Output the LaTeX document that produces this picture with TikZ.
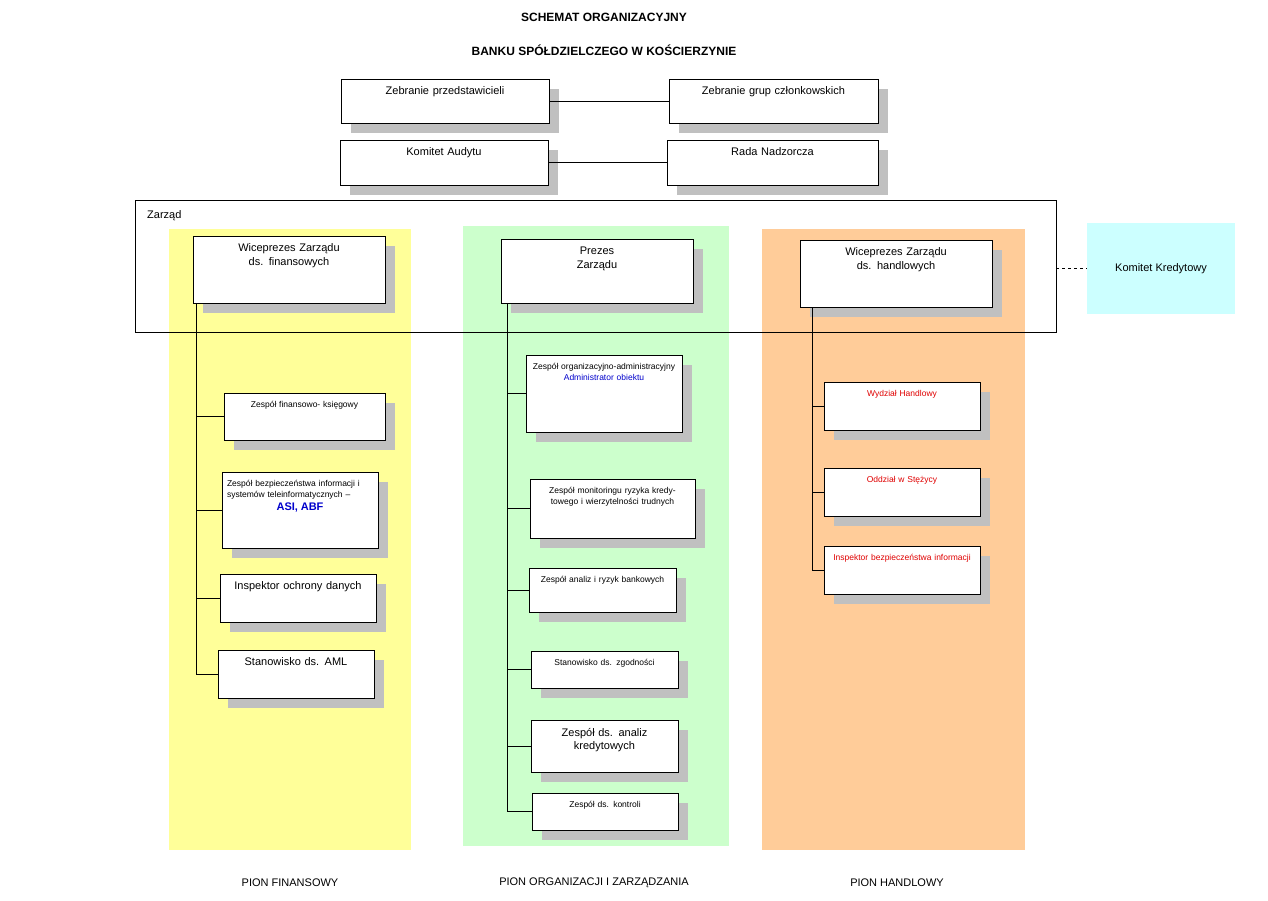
\documentclass[tikz,border=0pt]{standalone}
\usepackage{fontspec}
\setmainfont{Liberation Sans}
\usetikzlibrary{positioning}
\definecolor{shadowgray}{HTML}{C0C0C0}
\definecolor{finyellow}{HTML}{FFFF99}
\definecolor{orggreen}{HTML}{CCFFCC}
\definecolor{handorange}{HTML}{FFCC99}
\definecolor{kredcyan}{HTML}{CCFFFF}
\definecolor{txtblue}{HTML}{0000CC}
\definecolor{txtred}{HTML}{E00000}
\newcommand{\bigtxt}{\fontsize{11}{13.5}\selectfont}
\newcommand{\smltxt}{\fontsize{8.5}{11}\selectfont}
% name, x1, y1, x2, y2, font, text
\newcommand{\orgbox}[7]{%
  \fill[shadowgray] (#2+10,#3+10) rectangle (#4+10,#5+10);
  \node[box,minimum width=#4-#2,minimum height=#5-#3] (#1) at ({(#2+#4)/2},{(#3+#5)/2}) {};
  \node[boxtext,text width=#4-#2-10,font=#6] (#1 text) at (#1.north) {#7};}
\begin{document}
\begin{tikzpicture}[x=1pt,y=-1pt,
    box/.style={draw,fill=white,inner sep=0pt},
    boxtext/.style={anchor=north,align=center,inner sep=0pt,yshift=-8pt},
    pion/.style={font=\fontsize{11}{13}\selectfont},
    title/.style={font=\fontsize{12}{14}\selectfont\bfseries}]
  \useasboundingbox (0,0) rectangle (1268,901);

  % columns
  \fill[finyellow] (169,229) rectangle (411,850);
  \fill[orggreen] (463,226) rectangle (729,846);
  \fill[handorange] (762,229) rectangle (1025,850);

  \node[title] (t1) at (604,17) {SCHEMAT ORGANIZACYJNY};
  \node[title] (t2) at (604,50) {BANKU SPÓŁDZIELCZEGO W KOŚCIERZYNIE};

  \orgbox{zp}{341}{79}{549}{123}{\bigtxt}{Zebranie przedstawicieli}
  \orgbox{zg}{669}{79}{878}{123}{\bigtxt}{Zebranie grup członkowskich}
  \orgbox{ka}{340}{140}{548}{185}{\bigtxt}{Komitet Audytu}
  \orgbox{rn}{667}{140}{878}{185}{\bigtxt}{Rada Nadzorcza}
  \draw (zp) -- (zg);
  \draw (ka) -- (rn);

  % Zarzad
  \node[draw,minimum width=921,minimum height=132,inner sep=0pt] (zarzad) at (595.5,266) {};
  \node[anchor=north west,inner sep=0pt,font=\bigtxt] (zarzad label) at (147,210) {Zarząd};
  \node[fill=kredcyan,minimum width=148,minimum height=91,inner sep=0pt,font=\bigtxt] (kk) at (1161,268.5) {Komitet Kredytowy};
  \draw[dashed] (zarzad.east |- kk) -- (kk);

  \orgbox{vf}{193}{236}{385}{303}{\bigtxt}{Wiceprezes Zarządu\\ds. finansowych}
  \orgbox{pr}{501}{239}{693}{303}{\bigtxt}{Prezes\\Zarządu}
  \orgbox{vh}{800}{240}{992}{307}{\bigtxt}{Wiceprezes Zarządu\\ds. handlowych}

  % pion finansowy
  \orgbox{fk}{224}{393}{385}{440}{\smltxt}{Zespół finansowo- księgowy}
  \orgbox{fb}{222}{472}{378}{548}{\smltxt}{\raggedright Zespół bezpieczeństwa informacji i systemów teleinformatycznych --\\[2pt]{\fontsize{11}{13}\selectfont\bfseries\color{txtblue}ASI, ABF}}
  \orgbox{fi}{220}{574}{376}{622}{\bigtxt}{\raggedright Inspektor ochrony danych}
  \orgbox{fa}{218}{650}{374}{698}{\bigtxt}{\raggedright Stanowisko ds. AML}
  \coordinate (fin top) at (196,303);
  \draw (fin top) -- (fin top |- fa);
  \foreach \b in {fk,fb,fi,fa}
    \draw (fin top |- \b) -- (\b);

  % pion organizacji
  \orgbox{oa}{526}{355}{682}{432}{\smltxt}{Zespół organizacyjno-administracyjny\\{\color{txtblue}Administrator obiektu}}
  \orgbox{om}{530}{479}{695}{538}{\smltxt}{Zespół monitoringu ryzyka kredytowego i wierzytelności trudnych}
  \orgbox{or}{529}{568}{676}{612}{\smltxt}{Zespół analiz i ryzyk bankowych}
  \orgbox{oz}{531}{651}{678}{688}{\smltxt}{Stanowisko ds. zgodności}
  \orgbox{ok}{531}{720}{678}{772}{\bigtxt}{\raggedright Zespół ds. analiz kredytowych}
  \orgbox{oc}{532}{793}{678}{830}{\smltxt}{Zespół ds. kontroli}
  \coordinate (org top) at (507,303);
  \draw (org top) -- (org top |- oc);
  \foreach \b in {oa,om,or,oz,ok,oc}
    \draw (org top |- \b) -- (\b);

  % pion handlowy
  \orgbox{hw}{824}{382}{980}{430}{\smltxt\color{txtred}}{Wydział Handlowy}
  \orgbox{ho}{824}{468}{980}{516}{\smltxt\color{txtred}}{Oddział w Stężycy}
  \orgbox{hi}{824}{546}{980}{594}{\smltxt\color{txtred}}{\raggedright Inspektor bezpieczeństwa informacji}
  \coordinate (hand top) at (812,307);
  \draw (hand top) -- (hand top |- hi);
  \foreach \b in {hw,ho,hi}
    \draw (hand top |- \b) -- (\b);

  \node[pion] (p1) at (290,883) {PION FINANSOWY};
  \node[pion] (p2) at (594,883) {PION ORGANIZACJI I ZARZĄDZANIA};
  \node[pion] (p3) at (897,883) {PION HANDLOWY};
\end{tikzpicture}
\end{document}
